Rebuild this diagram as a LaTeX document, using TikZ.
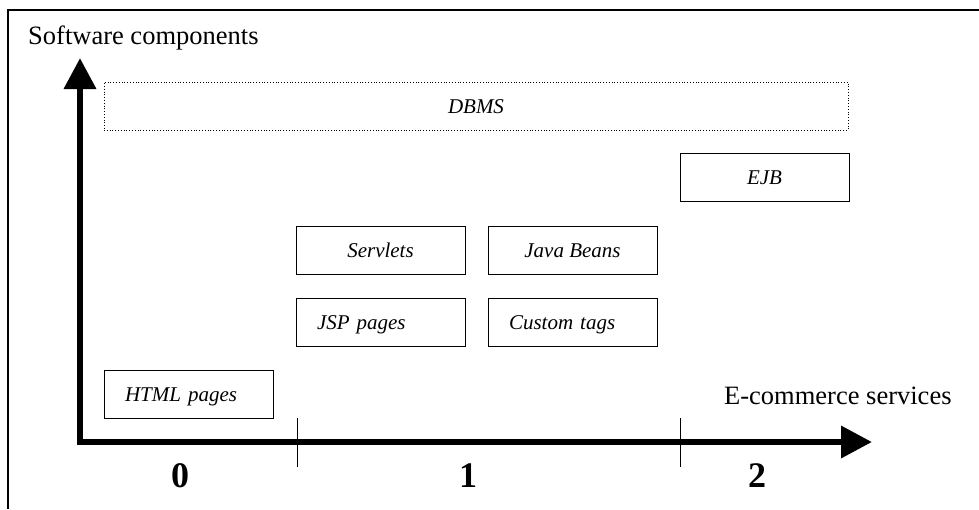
\documentclass[tikz,border=0pt]{standalone}
\usepackage{fontspec}
\setmainfont{Liberation Serif}
\usetikzlibrary{arrows.meta}
\newcommand*{\BoxFont}{\fontsize{21}{25}\selectfont\itshape}
\newcommand*{\AxisFont}{\fontsize{26.5}{30}\selectfont}
\newcommand*{\LevelFont}{\fontsize{36}{40}\selectfont\bfseries}

\begin{document}
\begin{tikzpicture}[x=1pt,y=-1pt,
    comp/.style={draw, line width=0.8pt, inner sep=0pt, minimum width=169pt,
        minimum height=48pt, text height=19pt, text depth=5pt, font=\BoxFont},
    compl/.style={comp, text width=127pt, align=left, inner xsep=21pt},
    axislabel/.style={anchor=base west, inner sep=0pt, font=\AxisFont},
    level/.style={anchor=base, inner sep=0pt, font=\LevelFont},
    axis/.style={line width=6.5pt, line cap=rect, -{Triangle[length=31pt,width=31pt]}}]
    \useasboundingbox (0,0) rectangle (979,509);
    \draw[line width=1.5pt] (8,509) -- (8,10) -- (979,10);
    % axes
    \coordinate (origin) at (80,442);
    \coordinate (ytip) at (80,58);
    \coordinate (xtip) at (872,442);
    \draw[axis] (origin) -- (ytip);
    \draw[axis] (origin) -- (xtip);
    \foreach \x in {297,680}
        \draw[line width=1pt] (\x,418) -- (\x,467);
    \node[axislabel] (ylabel) at (28,44) {Software components};
    \node[axislabel] (xlabel) at (724,404) {E-commerce services};
    \node[level] (lvl0) at (180,487) {0};
    \node[level] (lvl1) at (468,487) {1};
    \node[level] (lvl2) at (757,487) {2};
    % components
    \node[comp, dotted, minimum width=744pt] (dbms) at (476,106) {DBMS};
    \node[comp] (ejb) at (764.5,177.5) {EJB};
    \node[comp] (servlets) at (380.5,250) {Servlets};
    \node[comp] (beans) at (572.5,250) {Java Beans};
    \node[compl] (jsp) at (380.5,322) {JSP pages};
    \node[compl] (tags) at (572.5,322) {Custom tags};
    \node[compl] (html) at (188.5,394) {HTML pages};
\end{tikzpicture}
\end{document}
